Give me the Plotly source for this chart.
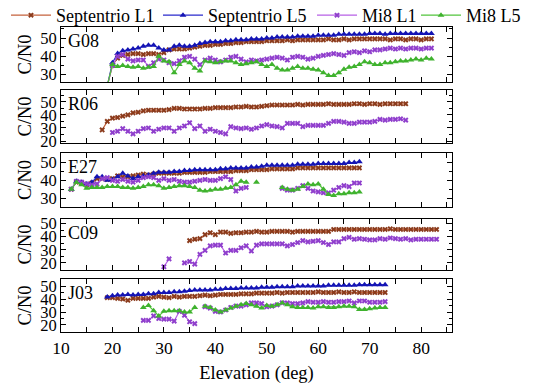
import plotly.graph_objects as go
from plotly.subplots import make_subplots

FONT = "Liberation Serif"

# ---------------- data (elevation in deg, C/N0 in dB-Hz) ----------------
elev_g08 = [19, 20, 21, 22, 23, 24, 25, 26, 27, 28, 29, 30, 31, 32, 33, 34, 35, 36, 37, 38,
            39, 40, 41, 42, 43, 44, 45, 46, 47, 48, 49, 50, 51, 52, 53, 54, 55, 56, 57, 58,
            59, 60, 61, 62, 63, 64, 65, 66, 67, 68, 69, 70, 71, 72, 73, 74, 75, 76, 77, 78,
            79, 80, 81, 82]
sept_l1_g08 = [24, 35, 39, 40.5, 41, 41.5, 41.5, 41, 41.5, 41.5, 41, 42, 43.5, 44, 44, 44, 44.5, 45, 45.5, 46,
               46, 46.5, 46.5, 47, 47, 47.5, 47.5, 48, 48, 48, 48, 48.5, 48.5, 48.5, 48.5, 49, 48.5, 49, 49, 49,
               49, 49, 49, 49.5, 49, 49, 49.5, 49, 49.5, 49.5, 49.5, 49.5, 49.5, 49.5, 49.5, 49, 49.5, 49.5, 49, 49.5,
               49.5, 49, 49.5, 49.5]
sept_l5_g08 = [24, 36.5, 41.5, 43, 43.5, 44, 44.5, 45.5, 46, 46, 44.5, 43.5, 43.5, 45.5, 46, 45.5, 45.5, 46, 47, 47.5,
               48, 48, 48, 48.5, 48.5, 49, 49, 49, 49.5, 49.5, 49.5, 50, 50, 50.5, 50.5, 50.5, 50.5, 51, 51, 51,
               51, 51.5, 51.5, 51.5, 51.5, 52, 52, 52, 52, 52, 52, 52.5, 52.5, 52.5, 52, 52.5, 52.5, 52.5, 52.5, 52.5,
               52.5, 52.5, 52.5, 52.5]
mi8_l1_g08 = [24, 35, 40, 41, 38.5, 37.5, 38, 38, 34.5, 36.5, 38.5, 38, 36.5, 36, 37.5, 39.5, 40, 38.5, 35.5, 38,
              39, 38, 37, 38, 39.5, 40, 38.5, 37, 38, 37.5, 38, 38.5, 39, 39.5, 39, 38, 39.5, 40, 39.5, 38.5,
              39, 40, 40.5, 41, 41.5, 41, 40.5, 42, 42.5, 42, 43, 42.5, 43.5, 43.5, 44, 44.5, 44, 44.5, 44, 44.5,
              44.5, 44, 44.5, 44.5]
mi8_l5_g08 = [24, 35.5, 34.5, 35, 34.5, 34, 34.5, 33.5, 34, 34.5, 40, 37.5, 37, 31, 35.5, 37.5, 36.5, 33.5, 32, 37.5,
              37, 36.5, 37, 37.5, 37.5, 36.5, 35.5, 36, 36.5, 37, 35.5, 34.5, 35.5, 33.5, 32.5, 32.5, 33.5, 34.5, 33.5, 33.5,
              33, 32.5, 31, 29.5, 29.5, 31, 33, 34, 34.5, 35.5, 37, 36.5, 35.5, 35.5, 36.5, 36.5, 37, 37.5, 37.5, 38,
              38.5, 38, 39, 38.5]

elev_r06 = [18, 19, 20, 21, 22, 23, 24, 25, 26, 27, 28, 29, 30, 31, 32, 33, 34, 35, 36, 37,
            38, 39, 40, 41, 42, 43, 44, 45, 46, 47, 48, 49, 50, 51, 52, 53, 54, 55, 56, 57,
            58, 59, 60, 61, 62, 63, 64, 65, 66, 67, 68, 69, 70, 71, 72, 73, 74, 75, 76, 77]
sept_l1_r06 = [28.5, 35, 37.5, 38, 39, 40, 41.5, 42, 43, 43.5, 43.5, 43.5, 43.5, 44, 45, 45, 44.5, 44.5, 44.5, 44.5,
               45, 45, 45.5, 45.5, 45.5, 45.5, 46, 46, 46.5, 46, 46, 46.5, 47, 47.5, 47.5, 47.5, 47.5, 47.5, 48, 47.5,
               48, 48, 48, 48, 48.5, 48, 48, 48, 48, 48.5, 48.5, 48, 48.5, 48.5, 48, 48.5, 48.5, 48.5, 48.5, 48.5]
sept_l5_r06 = [None] * 60
mi8_l1_r06 = [None, None,
              26.5, 27.5, 29.5, 27.5, 25.5, 27.5, 29.5, 30, 27.5, 29, 30, 30, 27.5, 30, 31.5, 34, 29.5, 31.5,
              27.5, 29, 27.5, 26.5, 25.5, 31, 30, 29.5, 30, 29, 30, 31.5, 32.5, 31.5, 31, 30, 33.5, 33.5,
              33.5, 31, 32, 32, 32, 32, 33.5, 35, 35, 34.5, 33.5, 33.5, 34.5, 34.5, 34.5, 35, 36.5, 36,
              36.5, 36.5, 37, 36]
mi8_l5_r06 = [None] * 60

elev_e27 = [12, 13, 14, 15, 16, 17, 18, 19, 20, 21, 22, 23, 24, 25, 26, 27, 28, 29, 30, 31,
            32, 33, 34, 35, 36, 37, 38, 39, 40, 41, 42, 43, 44, 45, 46, 47, 48, 49, 50, 51,
            52, 53, 54, 55, 56, 57, 58, 59, 60, 61, 62, 63, 64, 65, 66, 67, 68]
sept_l1_e27 = [35, 39, 38.5, 37.5, 38.5, 41, 41, 40.5, 41, 42.5, 42, 42, 42.5, 43, 43.5, 43, 43.5, 44, 44, 44,
               44, 44, 44.5, 44.5, 44.5, 44.5, 44.5, 45, 45, 45, 45, 45, 45.5, 45.5, 45.5, 46, 46, 46, 46, 46.5,
               46.5, 46.5, 46.5, 46.5, 47, 47, 47, 47, 47, 47, 47, 47, 47, 47, 47, 47, 47]
sept_l5_e27 = [35, 39.5, 39, 38, 39, 42, 42, 40, 40.5, 42, 44, 42.5, 41, 42, 42.5, 43, 44, 44.5, 44.5, 44.5,
               45, 45, 45.5, 45.5, 46, 46, 46, 46, 46, 46.5, 46.5, 47, 47, 47, 47, 47.5, 47.5, 48, 48.5, 48.5,
               48.5, 48.5, 48.5, 48.5, 49, 49, 49, 49, 49.5, 49.5, 49.5, 49.5, 49.5, 49.5, 50, 50, 50.5]
mi8_l1_e27 = [35, 39.5, 39, 38, 37.5, 38, 41, 41.5, 40, 39.5, 40.5, 39.5, 39, 40, 41.5, 42, 41.5, 40, 41, 40,
              40.5, 39.5, 39, 39, 39.5, 40, 40.5, 40, 40, 41, 42, 40.5, 34, 35.5, 36, None, None, None, None, None,
              None, 35.5, 34.5, 34.5, 35.5, 37, 35.5, 34, 33.5, 33, 33, 34.5, 36, 37, 36.5, 38.5, 38.5]
mi8_l5_e27 = [35, 39, 37.5, 35.5, 36, 36, 36, 36.5, 36.5, 36.5, 36, 36, 35.5, 36, 36.5, 37.5, 37.5, 37, 35.5, 36,
              36.5, 37, 37, 36.5, 36, 34.5, 34, 34.5, 35, 35, 35.5, 36, 37.5, 39.5, 39, None, 39, None, None, None,
              None, 36, 35, 34.5, 35, 36.5, 38, 37.5, 38, 35, 32, 31.5, 32.5, 32.5, 33, 33, 33.5]

elev_c09 = [30, 31, 32, 33, 34, 35, 36, 37, 38, 39, 40, 41, 42, 43, 44, 45, 46, 47, 48, 49,
            50, 51, 52, 53, 54, 55, 56, 57, 58, 59, 60, 61, 62, 63, 64, 65, 66, 67, 68, 69,
            70, 71, 72, 73, 74, 75, 76, 77, 78, 79, 80, 81, 82, 83]
sept_l1_c09 = [None, None, None, None, None,
               37, 38, 38.5, 41.5, 43, 41.5, 43.5, 43.5, 42.5, 43, 43, 43.5, 43.5, 44, 43.5,
               43.5, 44, 44, 44, 44, 43.5, 44, 44, 44, 44, 44, 44, 44, 45.5, 45.5, 45.5, 45.5, 45.5, 45.5, 45.5,
               45.5, 45.5, 45.5, 45.5, 46, 45.5, 45.5, 45.5, 45.5, 45.5, 45.5, 45.5, 45.5, 45.5]
sept_l5_c09 = [None] * 54
mi8_l1_c09 = [17, 23, None, None,
              20, 21, 19, 26.5, 29.5, 33, 33.5, 33.5, 27.5, 29.5, 29.5, 31.5, 33, 29, 33.5, 34.5,
              34.5, 34.5, 34.5, 34.5, 33, 34, 35.5, 37, 36, 36.5, 37, 35.5, 34, 36, 36, 38.5, 39.5, 38, 38.5, 38,
              37.5, 37.5, 38.5, 38, 39, 38.5, 38, 38.5, 37.5, 38, 38, 38, 38, 38]
mi8_l5_c09 = [None] * 54

elev_j03 = [19, 20, 21, 22, 23, 24, 25, 26, 27, 28, 29, 30, 31, 32, 33, 34, 35, 36, 37, 38,
            39, 40, 41, 42, 43, 44, 45, 46, 47, 48, 49, 50, 51, 52, 53, 54, 55, 56, 57, 58,
            59, 60, 61, 62, 63, 64, 65, 66, 67, 68, 69, 70, 71, 72, 73]
sept_l1_j03 = [41, 41, 40.5, 40, 39, 40.5, 40.5, 40.5, 40.5, 41.5, 42, 41.5, 41, 42, 41.5, 42, 42, 42, 42.5, 43,
               42.5, 43, 43.5, 43.5, 43.5, 43.5, 44, 44, 44, 44.5, 44.5, 44.5, 44.5, 45, 44.5, 45, 45, 45, 45, 45,
               45, 45.5, 45, 45, 45, 45.5, 45, 45, 45.5, 45, 45, 45, 45, 45, 45]
sept_l5_j03 = [41.5, 42.5, 43, 43, 43.5, 43, 43.5, 43.5, 44, 44, 45, 45, 45, 45.5, 45.5, 46, 46.5, 47, 47, 47,
               47, 47.5, 47.5, 48, 48, 48, 48.5, 48.5, 48.5, 48.5, 49, 49, 49, 49.5, 49.5, 49.5, 49.5, 50, 50, 50,
               50, 50, 50, 50.5, 50.5, 50.5, 50.5, 50.5, 50.5, 51, 51, 51, 51, 51, 51]
mi8_l1_j03 = [None, None, None, None, None, None, None,
              23.5, 23.5, 27, 25, 24.5, 24.5, 23, 30.5, 27.5, 22.5, 21, None,
              34, 33, 30.5, 30, 31.5, 33.5, 34.5, 34.5, 35.5, 37, 37, 36.5, 34, 34.5, 35.5, 37, 37, 36.5,
              36.5, 37, 38, 37.5, 37.5, 38, 37.5, 37.5, 38, 38, 38.5, 37, 38.5, 38.5, 37.5, 37.5, 37.5, 38]
mi8_l5_j03 = [None, None, None, None, None, None, None,
              33.5, 35, 31, 27, 30.5, 31, 31, 31, 30, 30, 33.5, None,
              34.5, 33.5, 31.5, 30, 31.5, 33, 34.5, 35.5, 36.5, 35.5, 34.5, 33, 35, 34.5, 35.5, 37, 35.5, 34,
              33.5, 33.5, 33.5, 33, 34, 34, 33.5, 33.5, 34, 34.5, 34.5, 34, 32, 32, 32.5, 33, 33.5, 33.5]

panel_names = ["G08", "R06", "E27", "C09", "J03"]
series_names = ["Septentrio L1", "Septentrio L5", "Mi8 L1", "Mi8 L5"]
panels = [
    (elev_g08, [sept_l1_g08, sept_l5_g08, mi8_l1_g08, mi8_l5_g08]),
    (elev_r06, [sept_l1_r06, sept_l5_r06, mi8_l1_r06, mi8_l5_r06]),
    (elev_e27, [sept_l1_e27, sept_l5_e27, mi8_l1_e27, mi8_l5_e27]),
    (elev_c09, [sept_l1_c09, sept_l5_c09, mi8_l1_c09, mi8_l5_c09]),
    (elev_j03, [sept_l1_j03, sept_l5_j03, mi8_l1_j03, mi8_l5_j03]),
]
y_ranges = [[26, 56], [18.5, 59], [25, 55.4], [14.5, 53.5], [14.6, 55.4]]
y_ticks = [[30, 40, 50], [20, 30, 40, 50], [30, 40, 50], [20, 30, 40, 50], [20, 30, 40, 50]]
x_ticks = [10, 20, 30, 40, 50, 60, 70, 80]

# ---------------- styles ----------------
styles = [
    dict(line="#c5623c", marker="#8b3b1c", symbol="x", size=5),
    dict(line="#2a2acc", marker="#1414b4", symbol="triangle-up", size=6),
    dict(line="#b760e6", marker="#8f3fcc", symbol="x", size=5),
    dict(line="#52c43c", marker="#3fb22e", symbol="triangle-up", size=6),
]

W, H = 550, 390
left, right = 61, 452
top, bottom = 27, 332
px_boxes = [(27, 82), (90, 143), (153, 207), (219, 270), (279, 332)]
legend_left_px = [6, 158, 312, 416]
legend_ids = ["legend", "legend2", "legend3", "legend4"]

def dom(b):
    return [(bottom - b[1]) / (bottom - top), (bottom - b[0]) / (bottom - top)]

fig = make_subplots(rows=5, cols=1, shared_xaxes=True, vertical_spacing=0.02)

for i, (elev, series) in enumerate(panels, start=1):
    for j, (name, vals) in enumerate(zip(series_names, series)):
        st = styles[j]
        fig.add_trace(go.Scatter(
            x=elev, y=vals, name=name, mode="lines+markers",
            legendgroup=name, showlegend=(i == 1), connectgaps=False,
            legend=legend_ids[j],
            line=dict(color=st["line"], width=1.2),
            marker=dict(symbol=st["symbol"], size=st["size"], color=st["marker"]),
        ), row=i, col=1)

ytick_font = dict(family=FONT, size=16.5, color="black")
xtick_font = dict(family=FONT, size=17.5, color="black")
title_font = dict(family=FONT, size=18.5, color="black")
for i in range(5):
    sfx = "" if i == 0 else str(i + 1)
    fig.layout["yaxis" + sfx].update(
        domain=dom(px_boxes[i]), range=y_ranges[i], tickvals=y_ticks[i],
        ticks="inside", ticklen=5, tickcolor="black", mirror="ticks",
        showline=True, linecolor="black", linewidth=1, showgrid=False, zeroline=False,
        minor=dict(ticks="inside", ticklen=3, dtick=5, tick0=0, tickcolor="black", showgrid=False),
        tickfont=ytick_font, title=dict(text="C/N0", font=title_font, standoff=3),
    )
    fig.layout["xaxis" + sfx].update(
        range=[10, 86], tickvals=x_ticks,
        ticks="inside", ticklen=5, tickcolor="black", mirror="ticks",
        showline=True, linecolor="black", linewidth=1, showgrid=False, zeroline=False,
        minor=dict(ticks="inside", ticklen=5, dtick=5, tick0=0, tickcolor="black", showgrid=False),
        tickfont=xtick_font, showticklabels=(i == 4),
    )
    fig.add_annotation(text=panel_names[i], xref="x%s domain" % sfx, yref="y%s domain" % sfx,
                       x=0.012, y=0.97, xanchor="left", yanchor="top", showarrow=False,
                       font=dict(family=FONT, size=18, color="black"))

fig.layout.xaxis5.title = dict(text="Elevation (deg)", font=title_font, standoff=9)

legend_common = dict(orientation="h", y=(bottom + 3) / (bottom - top), xanchor="left", yanchor="top",
                     font=dict(family=FONT, size=18, color="black"), itemwidth=40,
                     bgcolor="rgba(0,0,0,0)")
layout_legends = {}
for k, lid in enumerate(legend_ids):
    layout_legends[lid] = dict(legend_common, x=(legend_left_px[k] - left) / (right - left))

fig.update_layout(
    width=W, height=H,
    margin=dict(l=left, r=W - right, t=top, b=H - bottom, autoexpand=False),
    paper_bgcolor="white", plot_bgcolor="white",
    font=dict(family=FONT, size=16, color="black"),
    **layout_legends,
)

fig.write_html("out.html", config={"displayModeBar": False},
               post_script="document.body.style.margin='0px';")
